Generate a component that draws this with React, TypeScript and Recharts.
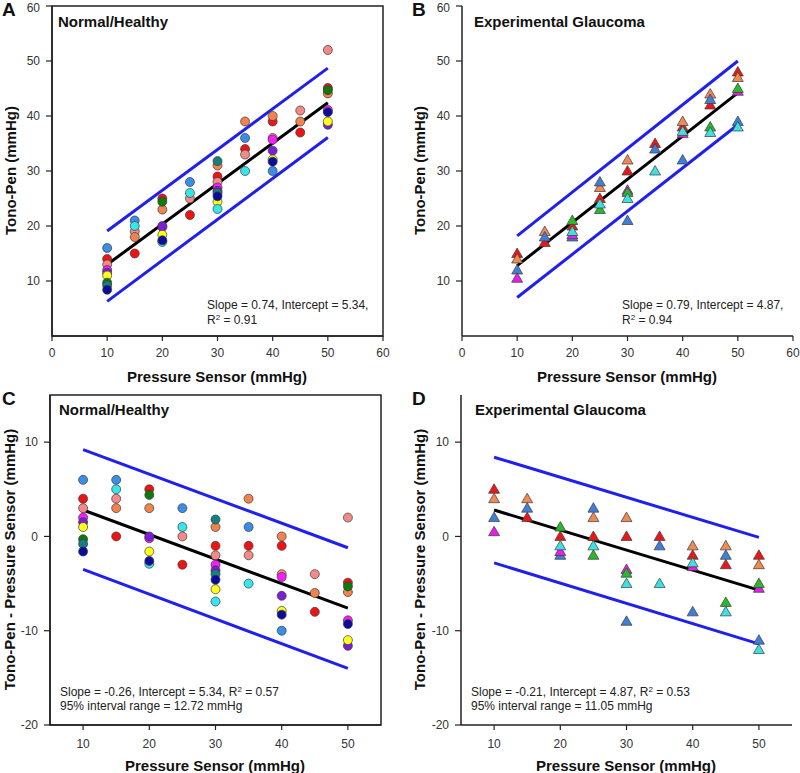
import React from 'react';
import { ScatterChart, Scatter, XAxis, YAxis, ReferenceLine, ReferenceArea } from 'recharts';

// Normal/Healthy eyes: [pressure sensor (mmHg), Tono-Pen minus sensor (mmHg)], one array per eye colour
const normalDodger = [[10, 6], [15, 6], [25, 3], [35, 1], [40, -10]];
const normalRed = [[10, 4], [15, 0], [20, 5], [25, -3], [30, -1], [35, -1], [40, -1], [45, -8], [50, -4.9]];
const normalSalmon = [[10, 3], [15, 4], [25, 0], [30, -2], [35, -2], [40, -4], [45, -4], [50, 2]];
const normalOrange = [[15, 3], [20, 3], [30, 1], [35, 4], [40, 0], [45, -6], [50, -5.9]];
const normalMagenta = [[10, 2], [20, -0.2], [30, -3], [40, -4.3], [50, -8.9]];
const normalPurple = [[10, 1.5], [20, 0], [30, -3.6], [40, -6.3], [50, -11.6]];
const normalYellow = [[10, 1], [20, -1.6], [30, -5.6], [40, -7.9], [50, -11]];
const normalGreen = [[10, -0.3], [20, 4.4], [50, -5.3]];
const normalTeal = [[10, -0.8], [30, 1.8], [30, -4]];
const normalCyan = [[15, 5], [20, -2.9], [25, 1], [30, -6.9], [35, -5]];
const normalNavy = [[10, -1.6], [20, -2.6], [30, -4.6], [40, -8.3], [50, -9.3]];

// Experimental glaucoma eyes
const glaucRed = [[10, 5], [15, 2], [20, 0], [25, 0], [30, 0], [35, 0], [40, -2], [45, -3], [50, -2]];
const glaucOrange = [[10, 4], [15, 4], [25, 2], [30, 2], [40, -1], [45, -1], [50, -3]];
const glaucBlue = [[10, 2], [15, 3], [20, -2], [25, 3], [30, -9], [35, -1], [40, -8], [45, -2], [50, -11]];
const glaucMagenta = [[10, 0.5], [20, -1.6], [30, -3.5], [40, -3.2], [50, -5.5]];
const glaucGreen = [[20, 1], [25, -2], [30, -3.9], [45, -7], [50, -5]];
const glaucCyan = [[20, -1], [25, -1], [30, -5], [35, -5], [40, -2.8], [45, -8], [50, -12]];

// regression and 95% lines, end points
const normalFitA = [[10, 13.0], [50, 42.4]];
const normalUpperA = [[10, 19.1], [50, 48.7]];
const normalLowerA = [[10, 6.3], [50, 36.1]];
const glaucFitB = [[10, 12.8], [50, 44.2]];
const glaucUpperB = [[10, 18.2], [50, 50.0]];
const glaucLowerB = [[10, 7.0], [50, 38.4]];
const normalFitC = [[10, 2.8], [50, -7.6]];
const normalUpperC = [[10, 9.2], [50, -1.2]];
const normalLowerC = [[10, -3.5], [50, -14.0]];
const glaucFitD = [[10, 2.8], [50, -5.7]];
const glaucUpperD = [[10, 8.4], [50, -0.1]];
const glaucLowerD = [[10, -2.8], [50, -11.4]];

const ticksTop = [0, 10, 20, 30, 40, 50, 60];
const yTicksTop = [10, 20, 30, 40, 50, 60];
const xTicksBottom = [10, 20, 30, 40, 50];
const yTicksBottom = [-20, -10, 0, 10];

const FONT = '"Liberation Sans", Arial, sans-serif';
const BLUE = '#2020ee';

const normalGroups = [
  { c: '#3a8ee6', d: normalDodger },
  { c: '#ee1414', d: normalRed },
  { c: '#f28a8a', d: normalSalmon },
  { c: '#f2834f', d: normalOrange },
  { c: '#ff1aff', d: normalMagenta },
  { c: '#7a1fd6', d: normalPurple },
  { c: '#ffff1a', d: normalYellow },
  { c: '#0d7a0d', d: normalGreen },
  { c: '#168080', d: normalTeal },
  { c: '#38e6ea', d: normalCyan },
  { c: '#0c0c9c', d: normalNavy },
];

const glaucGroups = [
  { c: '#e81818', d: glaucRed },
  { c: '#ef8a55', d: glaucOrange },
  { c: '#3f7fd6', d: glaucBlue },
  { c: '#e81ee8', d: glaucMagenta },
  { c: '#2ab82a', d: glaucGreen },
  { c: '#3ee0e0', d: glaucCyan },
];

const circle = (fill: string) => (props: any) => (
  <circle cx={props.cx} cy={props.cy} r={4.5} fill={fill} stroke="#3a3a3a" strokeWidth={0.7} />
);

const triangle = (fill: string) => (props: any) => {
  const { cx, cy } = props;
  return (
    <polygon
      points={`${cx},${cy - 5.5} ${cx - 5.5},${cy + 4} ${cx + 5.5},${cy + 4}`}
      fill={fill}
      stroke="#3a3a3a"
      strokeWidth={0.7}
    />
  );
};

const seg = (pts: number[][]) => pts.map(([x, y]) => ({ x, y }));

function Panel(props: any) {
  const {
    left, top, width, height, margin, yWidth, xDomain, xTicks, yDomain, yTicks,
    boxed, groups, agreement, marker, lines, tickMargin,
  } = props;
  const axisLine = { stroke: '#222', strokeWidth: 1.5 };
  const tickStyle = { fill: '#333', fontSize: 12, fontFamily: FONT };
  return (
    <div style={{ position: 'absolute', left, top }}>
      <ScatterChart width={width} height={height} margin={margin}>
        <XAxis
          type="number"
          dataKey="x"
          domain={xDomain}
          ticks={xTicks}
          allowDataOverflow
          height={40}
          axisLine={axisLine}
          tickLine={{ stroke: '#222', strokeWidth: 1.2 }}
          tickSize={5}
          tickMargin={tickMargin}
          tick={tickStyle}
        />
        <YAxis
          type="number"
          dataKey="y"
          domain={yDomain}
          ticks={yTicks}
          allowDataOverflow
          width={yWidth}
          axisLine={axisLine}
          tickLine={{ stroke: '#222', strokeWidth: 1.2 }}
          tickSize={6}
          tickMargin={6}
          tick={tickStyle}
        />
        {boxed && (
          <ReferenceArea
            x1={xDomain[0]}
            x2={xDomain[1]}
            y1={yDomain[0]}
            y2={yDomain[1]}
            fill="none"
            fillOpacity={0}
            stroke="#222"
            strokeWidth={1.5}
          />
        )}
        {groups.map((g: any, i: number) => (
          <Scatter
            key={i}
            data={g.d.map(([p, d]: number[]) => ({ x: p, y: agreement ? p + d : d }))}
            fill={g.c}
            shape={marker === 'tri' ? triangle(g.c) : circle(g.c)}
            isAnimationActive={false}
          />
        ))}
        {lines.map((l: any, i: number) => (
          <ReferenceLine key={i} segment={seg(l.pts)} stroke={l.color} strokeWidth={3} />
        ))}
      </ScatterChart>
    </div>
  );
}

const abs = (left: number, top: number, extra: any = {}) => ({
  position: 'absolute' as const,
  left,
  top,
  whiteSpace: 'nowrap' as const,
  fontFamily: FONT,
  ...extra,
});

function Letter({ x, y, t }: any) {
  return <div style={abs(x, y, { fontSize: 19, fontWeight: 'bold', lineHeight: '20px', color: '#111' })}>{t}</div>;
}

function Title({ x, y, t }: any) {
  return <div style={abs(x, y, { fontSize: 15, fontWeight: 'bold', lineHeight: '17px', color: '#111' })}>{t}</div>;
}

function XLabel({ cx, y }: any) {
  return (
    <div style={abs(cx - 100, y, { width: 200, textAlign: 'center', fontSize: 15, fontWeight: 'bold', lineHeight: '17px', color: '#111' })}>
      Pressure Sensor (mmHg)
    </div>
  );
}

function YLabel({ cx, cy, t }: any) {
  return (
    <div
      style={abs(cx - 150, cy - 9, {
        width: 300,
        textAlign: 'center',
        fontSize: 15,
        fontWeight: 'bold',
        lineHeight: '17px',
        color: '#111',
        transform: 'rotate(-90deg)',
      })}
    >
      {t}
    </div>
  );
}

function Note({ x, y, children }: any) {
  return <div style={abs(x, y, { fontSize: 12, lineHeight: '14px', color: '#222' })}>{children}</div>;
}

const sup = { fontSize: 8, verticalAlign: 'top', lineHeight: '10px' };

export default function App() {
  return (
    <div style={{ position: 'absolute', left: 0, top: 0, width: 800, height: 773, background: '#fff', overflow: 'hidden' }}>
      <Panel
        left={0} top={0} width={400} height={386}
        margin={{ top: 6, right: 17, bottom: 10, left: 0 }} yWidth={52}
        xDomain={[0, 60]} xTicks={ticksTop} yDomain={[0, 60]} yTicks={yTicksTop}
        boxed groups={normalGroups} agreement marker="circle" tickMargin={7}
        lines={[
          { pts: normalUpperA, color: BLUE },
          { pts: normalLowerA, color: BLUE },
          { pts: normalFitA, color: '#000' },
        ]}
      />
      <Panel
        left={400} top={0} width={400} height={386}
        margin={{ top: 6, right: 7, bottom: 10, left: 0 }} yWidth={62}
        xDomain={[0, 60]} xTicks={ticksTop} yDomain={[0, 60]} yTicks={yTicksTop}
        boxed={false} groups={glaucGroups} agreement marker="tri" tickMargin={7}
        lines={[
          { pts: glaucUpperB, color: BLUE },
          { pts: glaucLowerB, color: BLUE },
          { pts: glaucFitB, color: '#000' },
        ]}
      />
      <Panel
        left={0} top={386} width={400} height={387}
        margin={{ top: 9, right: 19, bottom: 8, left: 0 }} yWidth={50}
        xDomain={[5, 55]} xTicks={xTicksBottom} yDomain={[-20, 15]} yTicks={yTicksBottom}
        boxed groups={normalGroups} agreement={false} marker="circle" tickMargin={9}
        lines={[
          { pts: normalUpperC, color: BLUE },
          { pts: normalLowerC, color: BLUE },
          { pts: normalFitC, color: '#000' },
        ]}
      />
      <Panel
        left={400} top={386} width={400} height={387}
        margin={{ top: 9, right: 8, bottom: 8, left: 0 }} yWidth={61}
        xDomain={[5, 55]} xTicks={xTicksBottom} yDomain={[-20, 15]} yTicks={yTicksBottom}
        boxed={false} groups={glaucGroups} agreement={false} marker="tri" tickMargin={9}
        lines={[
          { pts: glaucUpperD, color: BLUE },
          { pts: glaucLowerD, color: BLUE },
          { pts: glaucFitD, color: '#000' },
        ]}
      />

      <Letter x={2} y={0} t="A" />
      <Letter x={412} y={0} t="B" />
      <Letter x={2} y={389} t="C" />
      <Letter x={412} y={389} t="D" />

      <Title x={58} y={13} t="Normal/Healthy" />
      <Title x={474} y={13} t="Experimental Glaucoma" />
      <Title x={59} y={401} t="Normal/Healthy" />
      <Title x={475} y={401} t="Experimental Glaucoma" />

      <YLabel cx={10} cy={171} t="Tono-Pen (mmHg)" />
      <YLabel cx={419} cy={171} t="Tono-Pen (mmHg)" />
      <YLabel cx={9} cy={560} t="Tono-Pen - Pressure Sensor (mmHg)" />
      <YLabel cx={419} cy={560} t="Tono-Pen - Pressure Sensor (mmHg)" />

      <XLabel cx={217} y={368} />
      <XLabel cx={627} y={368} />
      <XLabel cx={215} y={757} />
      <XLabel cx={626} y={757} />

      <Note x={207} y={298}>Slope = 0.74, Intercept = 5.34,</Note>
      <Note x={207} y={313}>R<span style={sup}>2</span> = 0.91</Note>
      <Note x={622} y={298}>Slope = 0.79, Intercept = 4.87,</Note>
      <Note x={622} y={313}>R<span style={sup}>2</span> = 0.94</Note>
      <Note x={60} y={685}>Slope = -0.26, Intercept = 5.34, R<span style={sup}>2</span> = 0.57</Note>
      <Note x={60} y={699}>95% interval range = 12.72 mmHg</Note>
      <Note x={471} y={685}>Slope = -0.21, Intercept = 4.87, R<span style={sup}>2</span> = 0.53</Note>
      <Note x={471} y={699}>95% interval range = 11.05 mmHg</Note>
    </div>
  );
}
